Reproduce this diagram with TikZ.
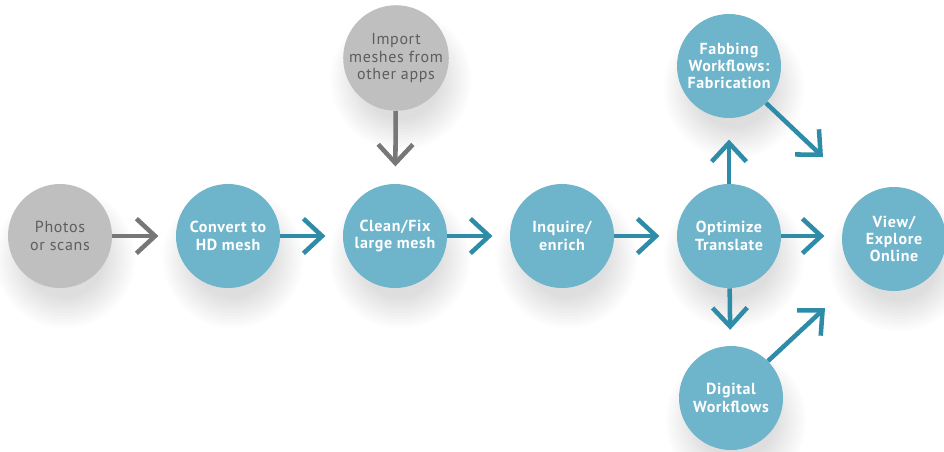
\documentclass[tikz,border=0pt]{standalone}
\usepackage{fontspec}
\setmainfont{PT Sans}[LetterSpace=4]
\usetikzlibrary{arrows.meta,backgrounds}
\definecolor{tealfill}{HTML}{6EB4CA}
\definecolor{tealline}{HTML}{2E8CA9}
\definecolor{greyfill}{HTML}{BFBFBF}
\definecolor{greyline}{HTML}{777777}
\definecolor{greytext}{HTML}{5E5E5E}
\begin{document}
\begin{tikzpicture}[x=0.75pt,y=-0.75pt,
  bubble/.style={circle, minimum size=78pt, inner sep=0pt, align=center},
  stage/.style={bubble, fill=tealfill, text=white,
    font=\fontsize{12}{13}\selectfont\bfseries},
  source/.style={bubble, fill=greyfill, text=greytext,
    font=\fontsize{12}{13}\selectfont},
  flow/.style={draw=tealline, line width=3.4pt, shorten >=13pt,
    -{Straight Barb[length=14pt,width=26pt]}},
  feed/.style={flow, draw=greyline},
  hazering/.style={fill=black, opacity=0.012}
]
\clip (0,0) rectangle (944,451);

% source material (grey)
\node[source] (photos) at (60,236) {Photos\\or scans};
\node[source] (import) at (396,58) {Import\\meshes from\\other apps};

% processing stages (teal)
\node[stage] (convert)  at (228,236) {Convert to\\HD mesh};
\node[stage] (clean)    at (395,236) {Clean/Fix\\large mesh};
\node[stage] (inquire)  at (562,236) {Inquire/\\enrich};
\node[stage] (optimize) at (729,236) {Optimize\\Translate};
\node[stage] (fab)      at (729,66)  {Fabbing\\Workflows:\\Fabrication};
\node[stage] (digital)  at (731,398) {Digital\\Workflows};
\node[stage] (view)     at (894,239) {View/\\Explore\\Online};

% page and soft shadows behind the bubbles (stacked translucent discs)
\begin{scope}[on background layer]
  \fill[white] (0,0) rectangle (944,451);
  \foreach \n in {photos,import,convert,clean,inquire,optimize,fab,digital,view}
    \foreach \r in {40,43,...,70}
      \path[hazering] ([shift={(5,22)}]\n.center) circle (\r);
\end{scope}

% free ends of the diagonal connectors
\coordinate (fabtip) at (823,157);
\coordinate (digtip) at (825,308);

% connectors
\draw[feed] (photos) -- (convert);
\draw[feed] (import) -- (clean);
\draw[flow] (convert) -- (clean);
\draw[flow] (clean) -- (inquire);
\draw[flow] (inquire) -- (optimize);
\draw[flow] (optimize) -- (optimize -| view.west);
\draw[flow, shorten >=16pt] (optimize) -- (fab);
\draw[flow, shorten >=12pt] (optimize) -- (digital);
\draw[flow, shorten >=0pt] (fab.-45) -- (fabtip);
\draw[flow, shorten >=0pt] (digital.45) -- (digtip);
\end{tikzpicture}
\end{document}
